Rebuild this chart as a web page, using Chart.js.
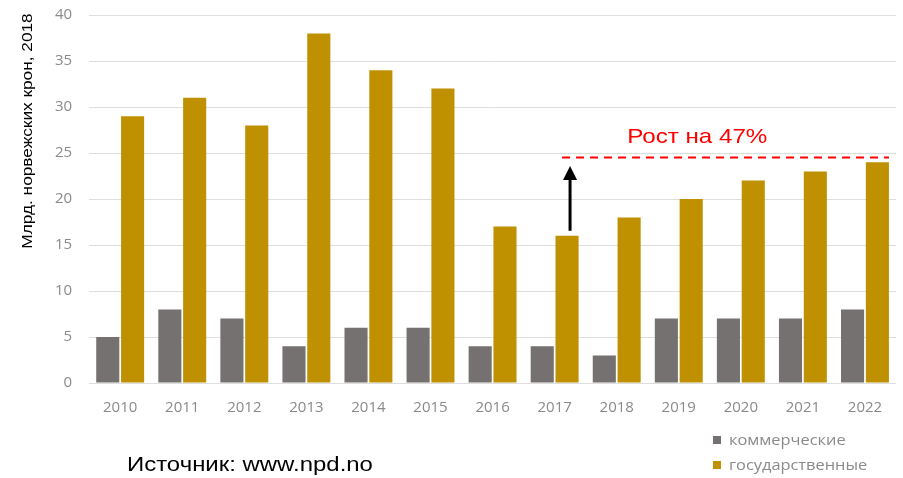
<!DOCTYPE html>
<html>
<head>
<meta charset="utf-8">
<script src="https://cdn.jsdelivr.net/npm/chart.js@4/dist/chart.umd.min.js"></script>
<style>
  body { margin: 0; background: #fff; font-family: Arial, "Liberation Sans", sans-serif; }
  #wrap { position: relative; width: 903px; height: 478px; }
  #source { position: absolute; left: 127px; top: 452px; font-size: 21px; color: #000;
            transform: scaleX(1.14); transform-origin: left center; white-space: nowrap; }
  .leg { position: absolute; left: 713px; font-family: "Open Sans", sans-serif; font-size: 14px; color: #8a8a8a; white-space: nowrap; }
  .leg span { display: inline-block; width: 8px; height: 8px; margin-right: 8px; vertical-align: 1px; }
  .leg b { font-weight: 400; display: inline-block; transform: scaleX(1.17); transform-origin: left center; }
</style>
</head>
<body>
<div id="wrap">
  <canvas id="npdChart" width="903" height="478"></canvas>
  <div id="source">Источник: www.npd.no</div>
  <div class="leg" style="top:430px"><span style="background:#767171"></span><b>коммерческие</b></div>
  <div class="leg" style="top:455px"><span style="background:#BF9000"></span><b>государственные</b></div>
</div>
<script>
const years = ['2010','2011','2012','2013','2014','2015','2016','2017','2018','2019','2020','2021','2022'];
const commercial = [5, 8, 7, 4, 6, 6, 4, 4, 3, 7, 7, 7, 8];
const government = [29, 31, 28, 38, 34, 32, 17, 16, 18, 20, 22, 23, 24];
const growthLevel = 24.5;   // red dashed line
const arrowTop = 23.6;      // arrow tip
const growthLabel = 'Рост на 47%';
const yTitle = 'Млрд. норвежских крон, 2018';

// arrow + dashed line + label, placed through the scales
const growthNote = {
    id: 'growthNote',
    afterDatasetsDraw(chart) {
        const ctx = chart.ctx;
        const y = chart.scales.y;
        const bars = chart.getDatasetMeta(1).data;
        const from = bars[7];
        const to = bars[12];
        const lineY = y.getPixelForValue(growthLevel);
        ctx.save();
        // dashed line
        ctx.strokeStyle = '#ff0000';
        ctx.lineWidth = 2;
        ctx.setLineDash([8, 6]);
        ctx.beginPath();
        ctx.moveTo(from.x - 5, lineY);
        ctx.lineTo(to.x + to.width / 2, lineY);
        ctx.stroke();
        // arrow
        ctx.setLineDash([]);
        ctx.strokeStyle = '#000';
        ctx.fillStyle = '#000';
        ctx.lineWidth = 3;
        const tipY = y.getPixelForValue(arrowTop);
        const ax = from.x + 3;
        ctx.beginPath();
        ctx.moveTo(ax, from.y - 5);
        ctx.lineTo(ax, tipY + 10);
        ctx.stroke();
        ctx.beginPath();
        ctx.moveTo(ax, tipY);
        ctx.lineTo(ax - 7, tipY + 14);
        ctx.lineTo(ax + 7, tipY + 14);
        ctx.closePath();
        ctx.fill();
        // label
        ctx.fillStyle = '#ff0000';
        ctx.font = '21px Arial, "Liberation Sans", sans-serif';
        ctx.textAlign = 'center';
        ctx.textBaseline = 'alphabetic';
        const lx = (bars[9].x + bars[10].x) / 2 - 25;
        ctx.translate(lx, lineY - 15);
        ctx.scale(1.15, 1);
        ctx.fillText(growthLabel, 0, 0);
        ctx.restore();

        // y axis title, sits above the middle of the axis as in the source
        ctx.save();
        ctx.fillStyle = '#000';
        ctx.font = '15px Arial, "Liberation Sans", sans-serif';
        ctx.textAlign = 'center';
        ctx.textBaseline = 'middle';
        ctx.translate(28, 131);
        ctx.rotate(-Math.PI / 2);
        ctx.scale(1.15, 1);
        ctx.fillText(yTitle, 0, 0);
        ctx.restore();
    }
};

new Chart(document.getElementById('npdChart').getContext('2d'), {
    type: 'bar',
    data: {
        labels: years,
        datasets: [
            { label: 'коммерческие', data: commercial, backgroundColor: '#767171' },
            { label: 'государственные', data: government, backgroundColor: '#BF9000' }
        ]
    },
    options: {
        responsive: false,
        animation: false,
        categoryPercentage: 0.8,
        barPercentage: 0.93,
        layout: { padding: { left: 38, right: 7, top: 15, bottom: 53 } },
        plugins: { legend: { display: false }, tooltip: { enabled: false } },
        scales: {
            x: {
                grid: { display: false },
                border: { display: false },
                ticks: { color: '#8a8a8a', font: { family: 'Open Sans', size: 15 }, padding: 8, maxRotation: 0 }
            },
            y: {
                min: 0, max: 40,
                grid: { color: '#dedede', lineWidth: 1, drawTicks: false },
                border: { display: false },
                ticks: { stepSize: 5, color: '#8a8a8a', font: { family: 'Open Sans', size: 15 }, padding: 17 },
                // tick padding is only wanted sideways
                afterFit(scale) { scale.paddingTop = 0; scale.paddingBottom = 0; }
            }
        }
    },
    plugins: [growthNote]
});
</script>
</body>
</html>
